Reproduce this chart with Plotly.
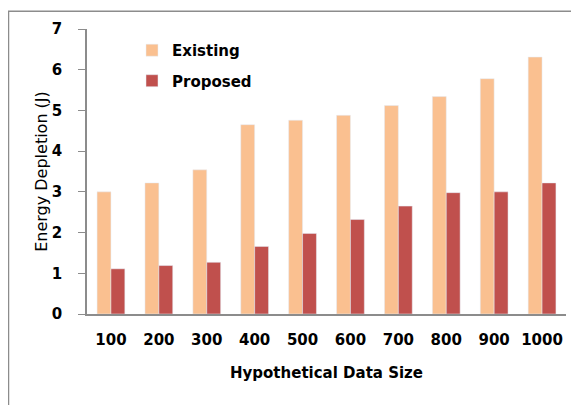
import plotly.graph_objects as go

categories = ["100", "200", "300", "400", "500", "600", "700", "800", "900", "1000"]
existing = [3.0, 3.22, 3.54, 4.65, 4.76, 4.88, 5.12, 5.34, 5.78, 6.31]
proposed = [1.11, 1.19, 1.27, 1.66, 1.98, 2.32, 2.65, 2.98, 3.0, 3.22]

FONT = "DejaVu Sans"
fig = go.Figure()
fig.add_trace(go.Bar(x=categories, y=existing, name="Existing", marker_color="#FAC090",
                     legendgroup="a"))
fig.add_trace(go.Bar(x=categories, y=proposed, name="Proposed", marker_color="#C0504D",
                     legendgroup="b"))

# page offset (browser body margin)
OFF = 8
W, H = 579, 405
# plot area in page pixels
PX0, PX1, PY0, PY1 = 87, 566, 27, 314
L, T = PX0 - OFF, PY0 - OFF
R, B = W - (PX1 - OFF), H - (PY1 - OFF)
pw, ph = PX1 - PX0, PY1 - PY0

def px(x):  # page x -> paper
    return (x - PX0) / pw

def py(y):  # page y -> paper
    return (PY1 - y) / ph

fig.update_layout(
    width=W, height=H,
    margin=dict(l=L, r=R, t=T, b=B),
    plot_bgcolor="white", paper_bgcolor="white",
    barmode="group", bargap=0.42, bargroupgap=0,
    font=dict(family=FONT, color="black"),
    legend=dict(x=px(132), y=py(32), xanchor="left", yanchor="top",
                font=dict(family=FONT, size=15, color="black", weight="bold"),
                bgcolor="rgba(0,0,0,0)", traceorder="grouped", tracegroupgap=8),
    xaxis=dict(showline=True, linecolor="#8c8c8c", linewidth=1.5, ticks="",
               ticklabelstandoff=11,
               tickfont=dict(family=FONT, size=15, weight="bold"),
               title=dict(text="Hypothetical Data Size", standoff=20,
                          font=dict(family=FONT, size=15, weight="bold"))),
    yaxis=dict(range=[0, 7], dtick=1, showgrid=False, zeroline=False,
               showline=True, linecolor="#8c8c8c", linewidth=1.5,
               ticks="outside", ticklen=7, tickcolor="#8c8c8c",
               ticklabelstandoff=13,
               tickfont=dict(family=FONT, size=15, weight="bold"),
               title=dict(text="Energy Depletion (J)", standoff=0,
                          font=dict(family=FONT, size=16))),
    shapes=[
        dict(type="line", xref="paper", yref="paper", x0=px(8), x1=px(590),
             y0=py(9), y1=py(9), line=dict(color="#8c8c8c", width=1.5)),
        dict(type="line", xref="paper", yref="paper", x0=px(8.5), x1=px(8.5),
             y0=py(9), y1=py(420), line=dict(color="#8c8c8c", width=1.5)),
    ],
)

fig.write_html("out.html")
